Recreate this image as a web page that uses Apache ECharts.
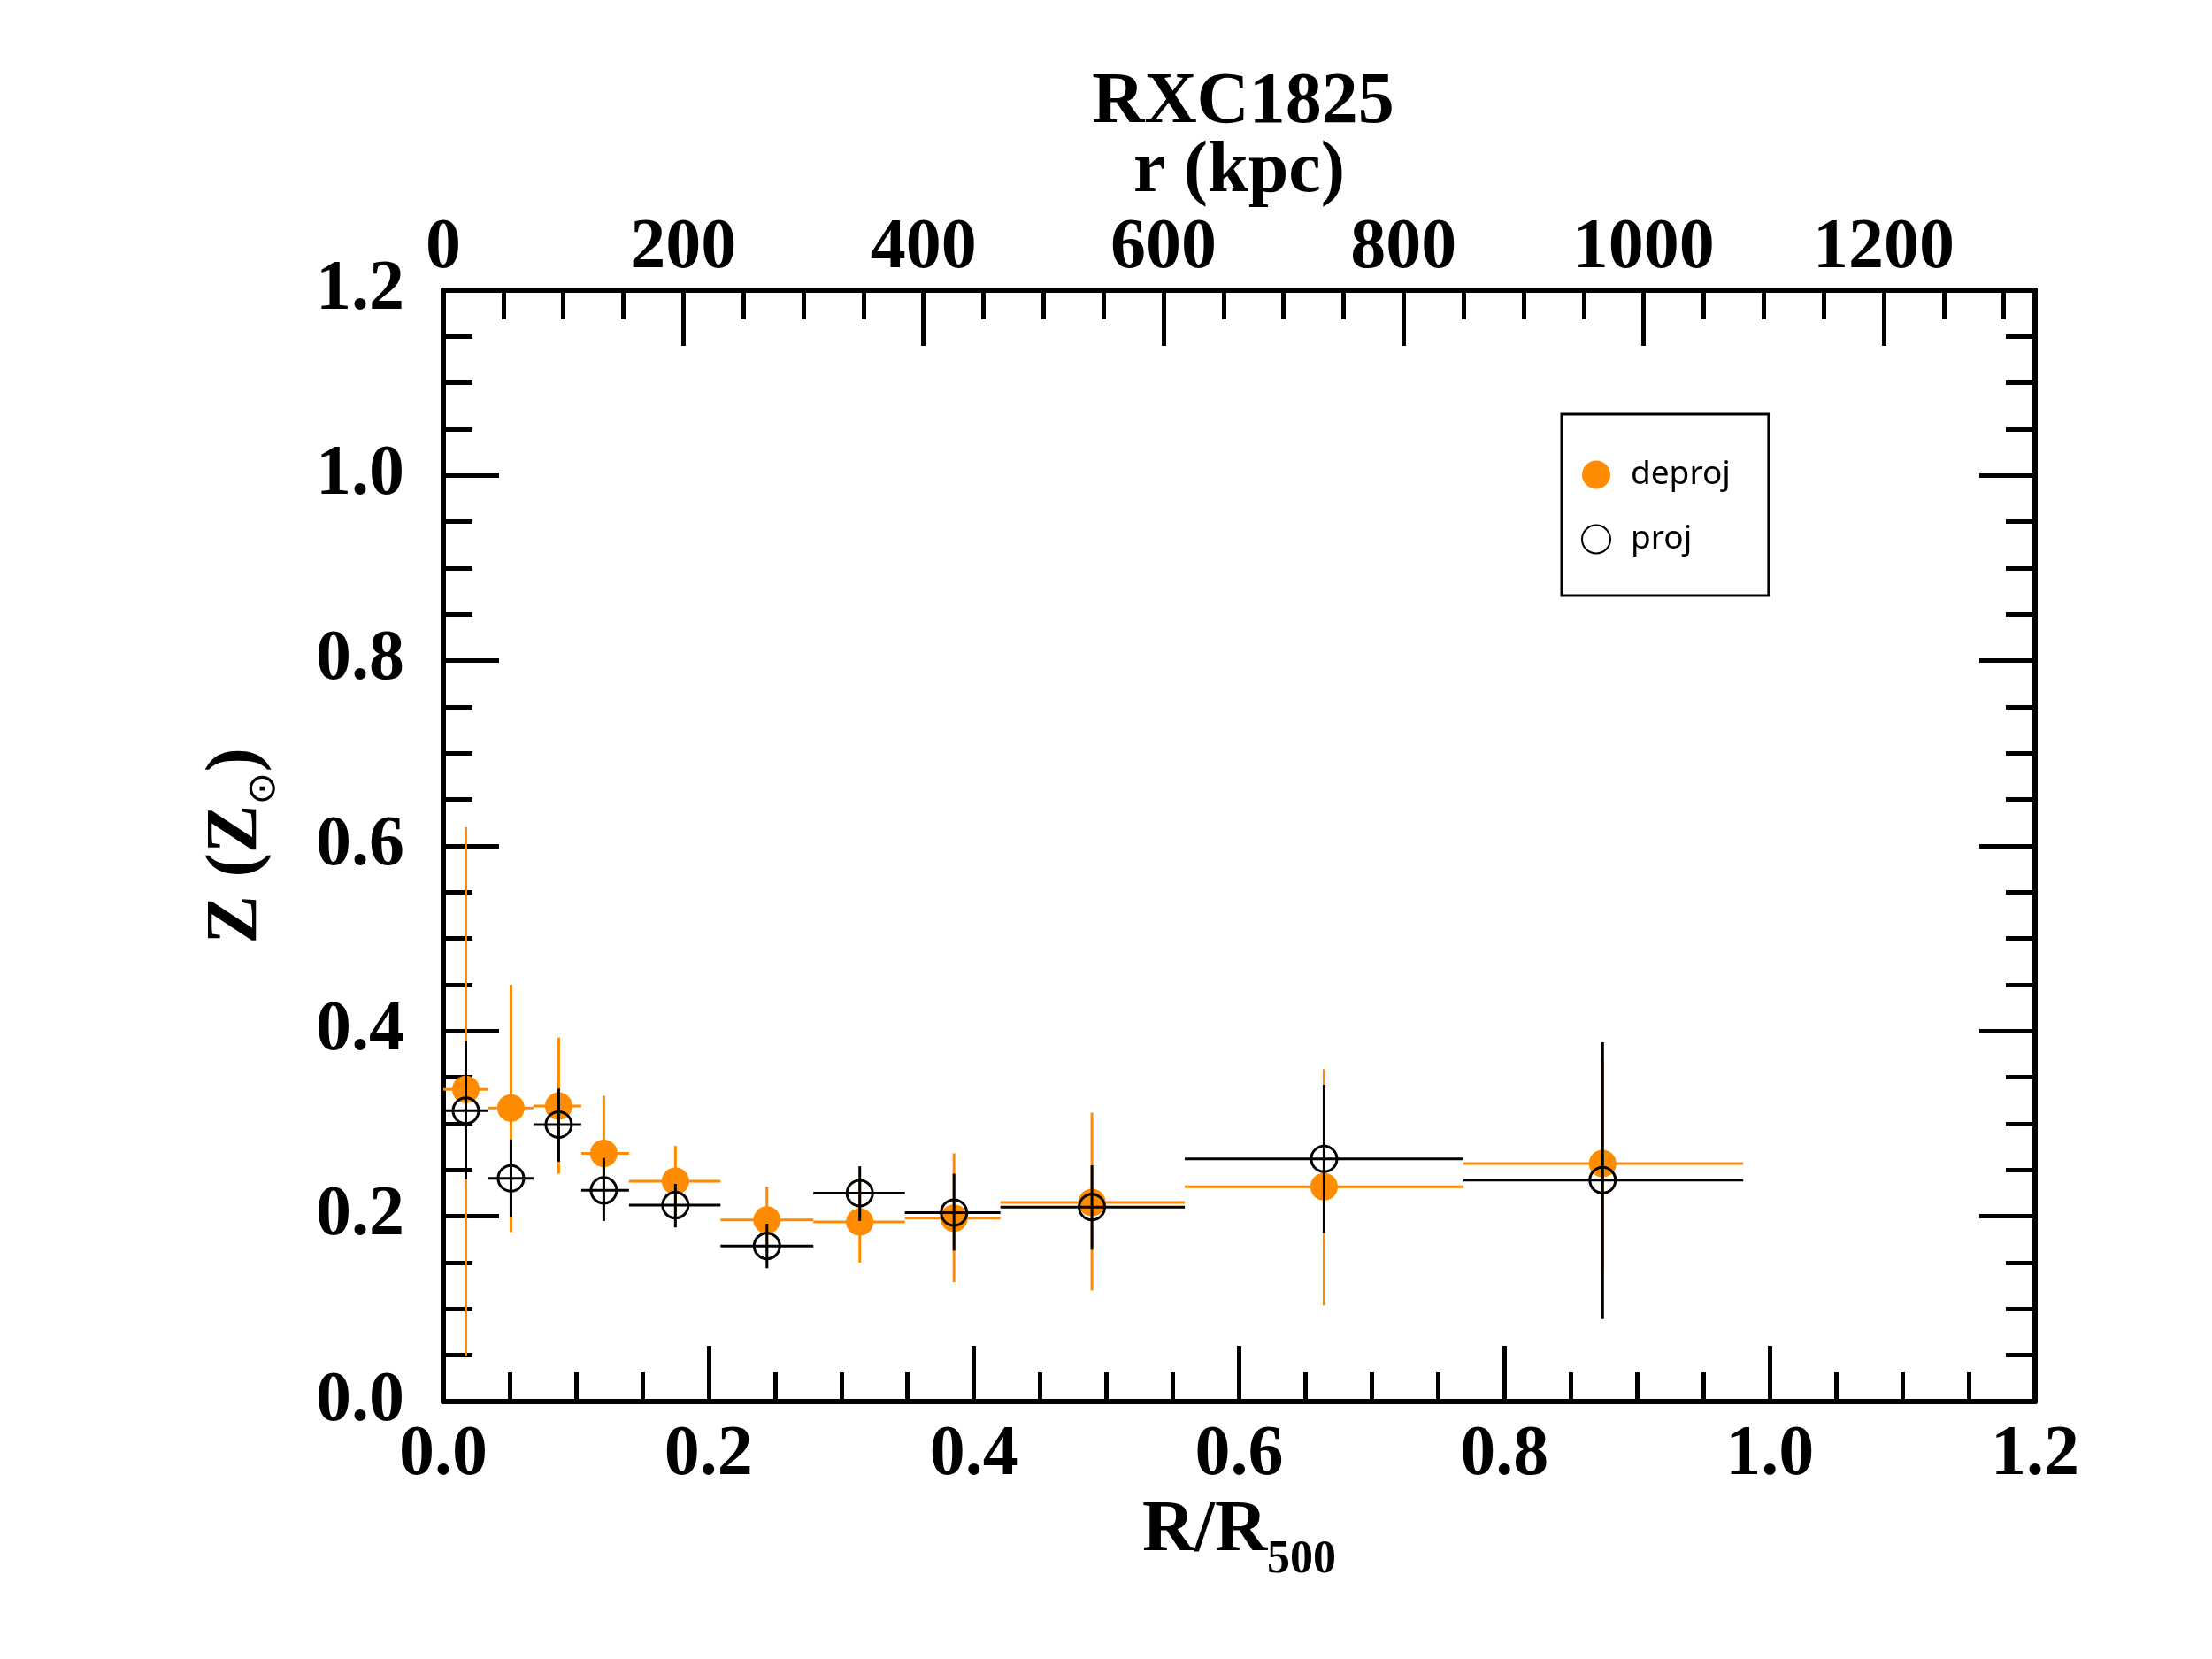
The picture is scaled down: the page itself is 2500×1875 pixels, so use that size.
<!DOCTYPE html>
<html>
<head>
<meta charset="utf-8">
<script src="https://cdn.jsdelivr.net/npm/echarts@6/dist/echarts.min.js"></script>
<style>
  html, body { margin: 0; padding: 0; background: #fff; }
  #chart { width: 2500px; height: 1875px; }
</style>
</head>
<body>
<div id="chart"></div>
<script>
// radial bins (R/R500)
var xMid  = [0.017, 0.051, 0.087, 0.121, 0.175, 0.244, 0.314, 0.385, 0.489, 0.664, 0.874];
var xLow  = [0.000, 0.034, 0.068, 0.104, 0.140, 0.209, 0.279, 0.348, 0.420, 0.559, 0.769];
var xHigh = [0.034, 0.068, 0.104, 0.140, 0.209, 0.279, 0.348, 0.420, 0.559, 0.769, 0.980];

// deprojected metallicity
var zDeproj  = [0.337, 0.317, 0.319, 0.268, 0.238, 0.196, 0.194, 0.198, 0.215, 0.232, 0.257];
var deprojLo = [0.049, 0.183, 0.246, 0.206, 0.200, 0.160, 0.150, 0.129, 0.120, 0.104, 0.140];
var deprojHi = [0.620, 0.450, 0.393, 0.330, 0.276, 0.232, 0.238, 0.268, 0.312, 0.359, 0.370];

// projected metallicity
var zProj  = [0.314, 0.241, 0.299, 0.228, 0.212, 0.168, 0.225, 0.204, 0.210, 0.262, 0.239];
var projLo = [0.240, 0.199, 0.259, 0.195, 0.188, 0.144, 0.195, 0.163, 0.164, 0.182, 0.089];
var projHi = [0.389, 0.283, 0.338, 0.263, 0.235, 0.192, 0.254, 0.246, 0.255, 0.342, 0.388];

// top axis: r in kpc, R500 = 1105 kpc
var R500_KPC = 1105;
var axisMax = 1.2;

var ORANGE = '#FF8C00';
var SERIF = 'Liberation Serif';

function rows(mid, lo, hi, y, ylo, yhi) {
  var out = [];
  for (var i = 0; i < mid.length; i++) {
    out.push([mid[i], y[i], lo[i], hi[i], ylo[i], yhi[i]]);
  }
  return out;
}

function errRender(color) {
  return function (params, api) {
    var l = api.coord([api.value(2), api.value(1)]);
    var r = api.coord([api.value(3), api.value(1)]);
    var lo = api.coord([api.value(0), api.value(4)]);
    var hi = api.coord([api.value(0), api.value(5)]);
    var st = { stroke: color, lineWidth: 3 };
    return {
      type: 'group',
      children: [
        { type: 'line', shape: { x1: l[0], y1: l[1], x2: r[0], y2: r[1] }, style: st },
        { type: 'line', shape: { x1: lo[0], y1: lo[1], x2: hi[0], y2: hi[1] }, style: st }
      ]
    };
  };
}

var deprojRows = rows(xMid, xLow, xHigh, zDeproj, deprojLo, deprojHi);
var projRows = rows(xMid, xLow, xHigh, zProj, projLo, projHi);

var axLine = { show: true, onZero: false, lineStyle: { color: '#000', width: 6 } };
var majTick = { show: true, inside: true, length: 63, lineStyle: { color: '#000', width: 5 } };
var minTick = { show: true, splitNumber: 4, length: 33, lineStyle: { color: '#000', width: 5 } };
var tickFont = { color: '#000', fontFamily: SERIF, fontWeight: 'bold', fontSize: 80 };

var chart = echarts.init(document.getElementById('chart'), null, { renderer: 'canvas' });

var option = {
  backgroundColor: '#fff',
  animation: false,
  title: {
    text: 'RXC1825',
    left: 1400,
    top: 71,
    textAlign: 'center',
    textStyle: { color: '#000', fontFamily: SERIF, fontWeight: 'bold', fontSize: 82, lineHeight: 82 }
  },
  legend: {
    left: 1765,
    top: 468,
    orient: 'vertical',
    padding: [50, 43, 45, 22],
    itemGap: 36,
    itemWidth: 32,
    itemHeight: 32,
    borderColor: '#000',
    borderWidth: 3,
    textStyle: { color: '#000', fontFamily: 'Noto Sans', fontSize: 37, lineHeight: 32, padding: [0, 0, 0, 18] },
    data: [
      { name: 'deproj', icon: 'circle' },
      { name: 'proj', icon: 'circle' }
    ]
  },
  grid: { left: 501, right: 200, top: 328, bottom: 291 },
  xAxis: [
    {
      type: 'value', position: 'bottom', min: 0, max: axisMax, interval: 0.2,
      axisLine: axLine, axisTick: majTick, minorTick: minTick, splitLine: { show: false },
      axisLabel: Object.assign({ margin: 21, formatter: function (v) { return v.toFixed(1); } }, tickFont),
      name: '{m|R/R}{s|500}',
      nameLocation: 'middle',
      nameGap: 84,
      nameTextStyle: {
        rich: {
          m: { fontFamily: SERIF, fontWeight: 'bold', fontSize: 82, lineHeight: 82, color: '#000', verticalAlign: 'top' },
          s: { fontFamily: SERIF, fontWeight: 'bold', fontSize: 52, lineHeight: 52, color: '#000', padding: [48, 0, 0, 0], verticalAlign: 'top' }
        }
      }
    },
    {
      type: 'value', position: 'top', min: 0, max: axisMax * R500_KPC, interval: 200,
      axisLine: axLine, axisTick: majTick, splitLine: { show: false },
      axisLabel: Object.assign({
        margin: 7, showMaxLabel: false,
        formatter: function (v) { return v % 200 === 0 ? String(v) : ''; }
      }, tickFont),
      name: 'r (kpc)',
      nameLocation: 'middle',
      nameGap: 70,
      nameTextStyle: { color: '#000', fontFamily: SERIF, fontWeight: 'bold', fontSize: 82 }
    },
    {
      // minor ticks of the kpc axis
      type: 'value', position: 'top', min: 0, max: axisMax * R500_KPC, interval: 50,
      axisLine: axLine,
      axisTick: { show: true, inside: true, length: 33, lineStyle: { color: '#000', width: 5 } },
      axisLabel: { show: false }, splitLine: { show: false }
    }
  ],
  yAxis: [
    {
      type: 'value', position: 'left', min: 0, max: axisMax, interval: 0.2,
      axisLine: axLine, axisTick: majTick, minorTick: minTick, splitLine: { show: false },
      axisLabel: Object.assign({ margin: 44, formatter: function (v) { return v.toFixed(1); } }, tickFont),
      name: '{m|Z (Z}{s|⊙}{m|)}',
      nameLocation: 'middle',
      nameRotate: 90,
      nameGap: 192,
      nameTextStyle: {
        rich: {
          m: { fontFamily: SERIF, fontWeight: 'bold', fontSize: 82, lineHeight: 82, color: '#000', verticalAlign: 'top' },
          s: { fontFamily: 'DejaVu Sans', fontSize: 44, lineHeight: 44, color: '#000', padding: [50, 0, 0, 0], verticalAlign: 'top' }
        }
      }
    },
    {
      type: 'value', position: 'right', min: 0, max: axisMax, interval: 0.2,
      axisLine: axLine, axisTick: majTick, minorTick: minTick, splitLine: { show: false },
      axisLabel: { show: false }
    }
  ],
  series: [
    {
      name: 'deproj-err', type: 'custom', xAxisIndex: 0, yAxisIndex: 0,
      renderItem: errRender(ORANGE), data: deprojRows, z: 1, silent: true,
      encode: { x: 0, y: 1 }
    },
    {
      name: 'deproj', type: 'scatter', xAxisIndex: 0, yAxisIndex: 0,
      symbol: 'circle', symbolSize: 31, itemStyle: { color: ORANGE, opacity: 1 },
      data: deprojRows.map(function (d) { return [d[0], d[1]]; }), z: 2
    },
    {
      name: 'proj-err', type: 'custom', xAxisIndex: 0, yAxisIndex: 0,
      renderItem: errRender('#000'), data: projRows, z: 3, silent: true,
      encode: { x: 0, y: 1 }
    },
    {
      name: 'proj', type: 'scatter', xAxisIndex: 0, yAxisIndex: 0,
      symbol: 'circle', symbolSize: 29,
      itemStyle: { color: 'rgba(0,0,0,0)', borderColor: '#000', borderWidth: 3, opacity: 1 },
      data: projRows.map(function (d) { return [d[0], d[1]]; }), z: 4
    }
  ]
};

chart.setOption(option);
</script>
</body>
</html>
